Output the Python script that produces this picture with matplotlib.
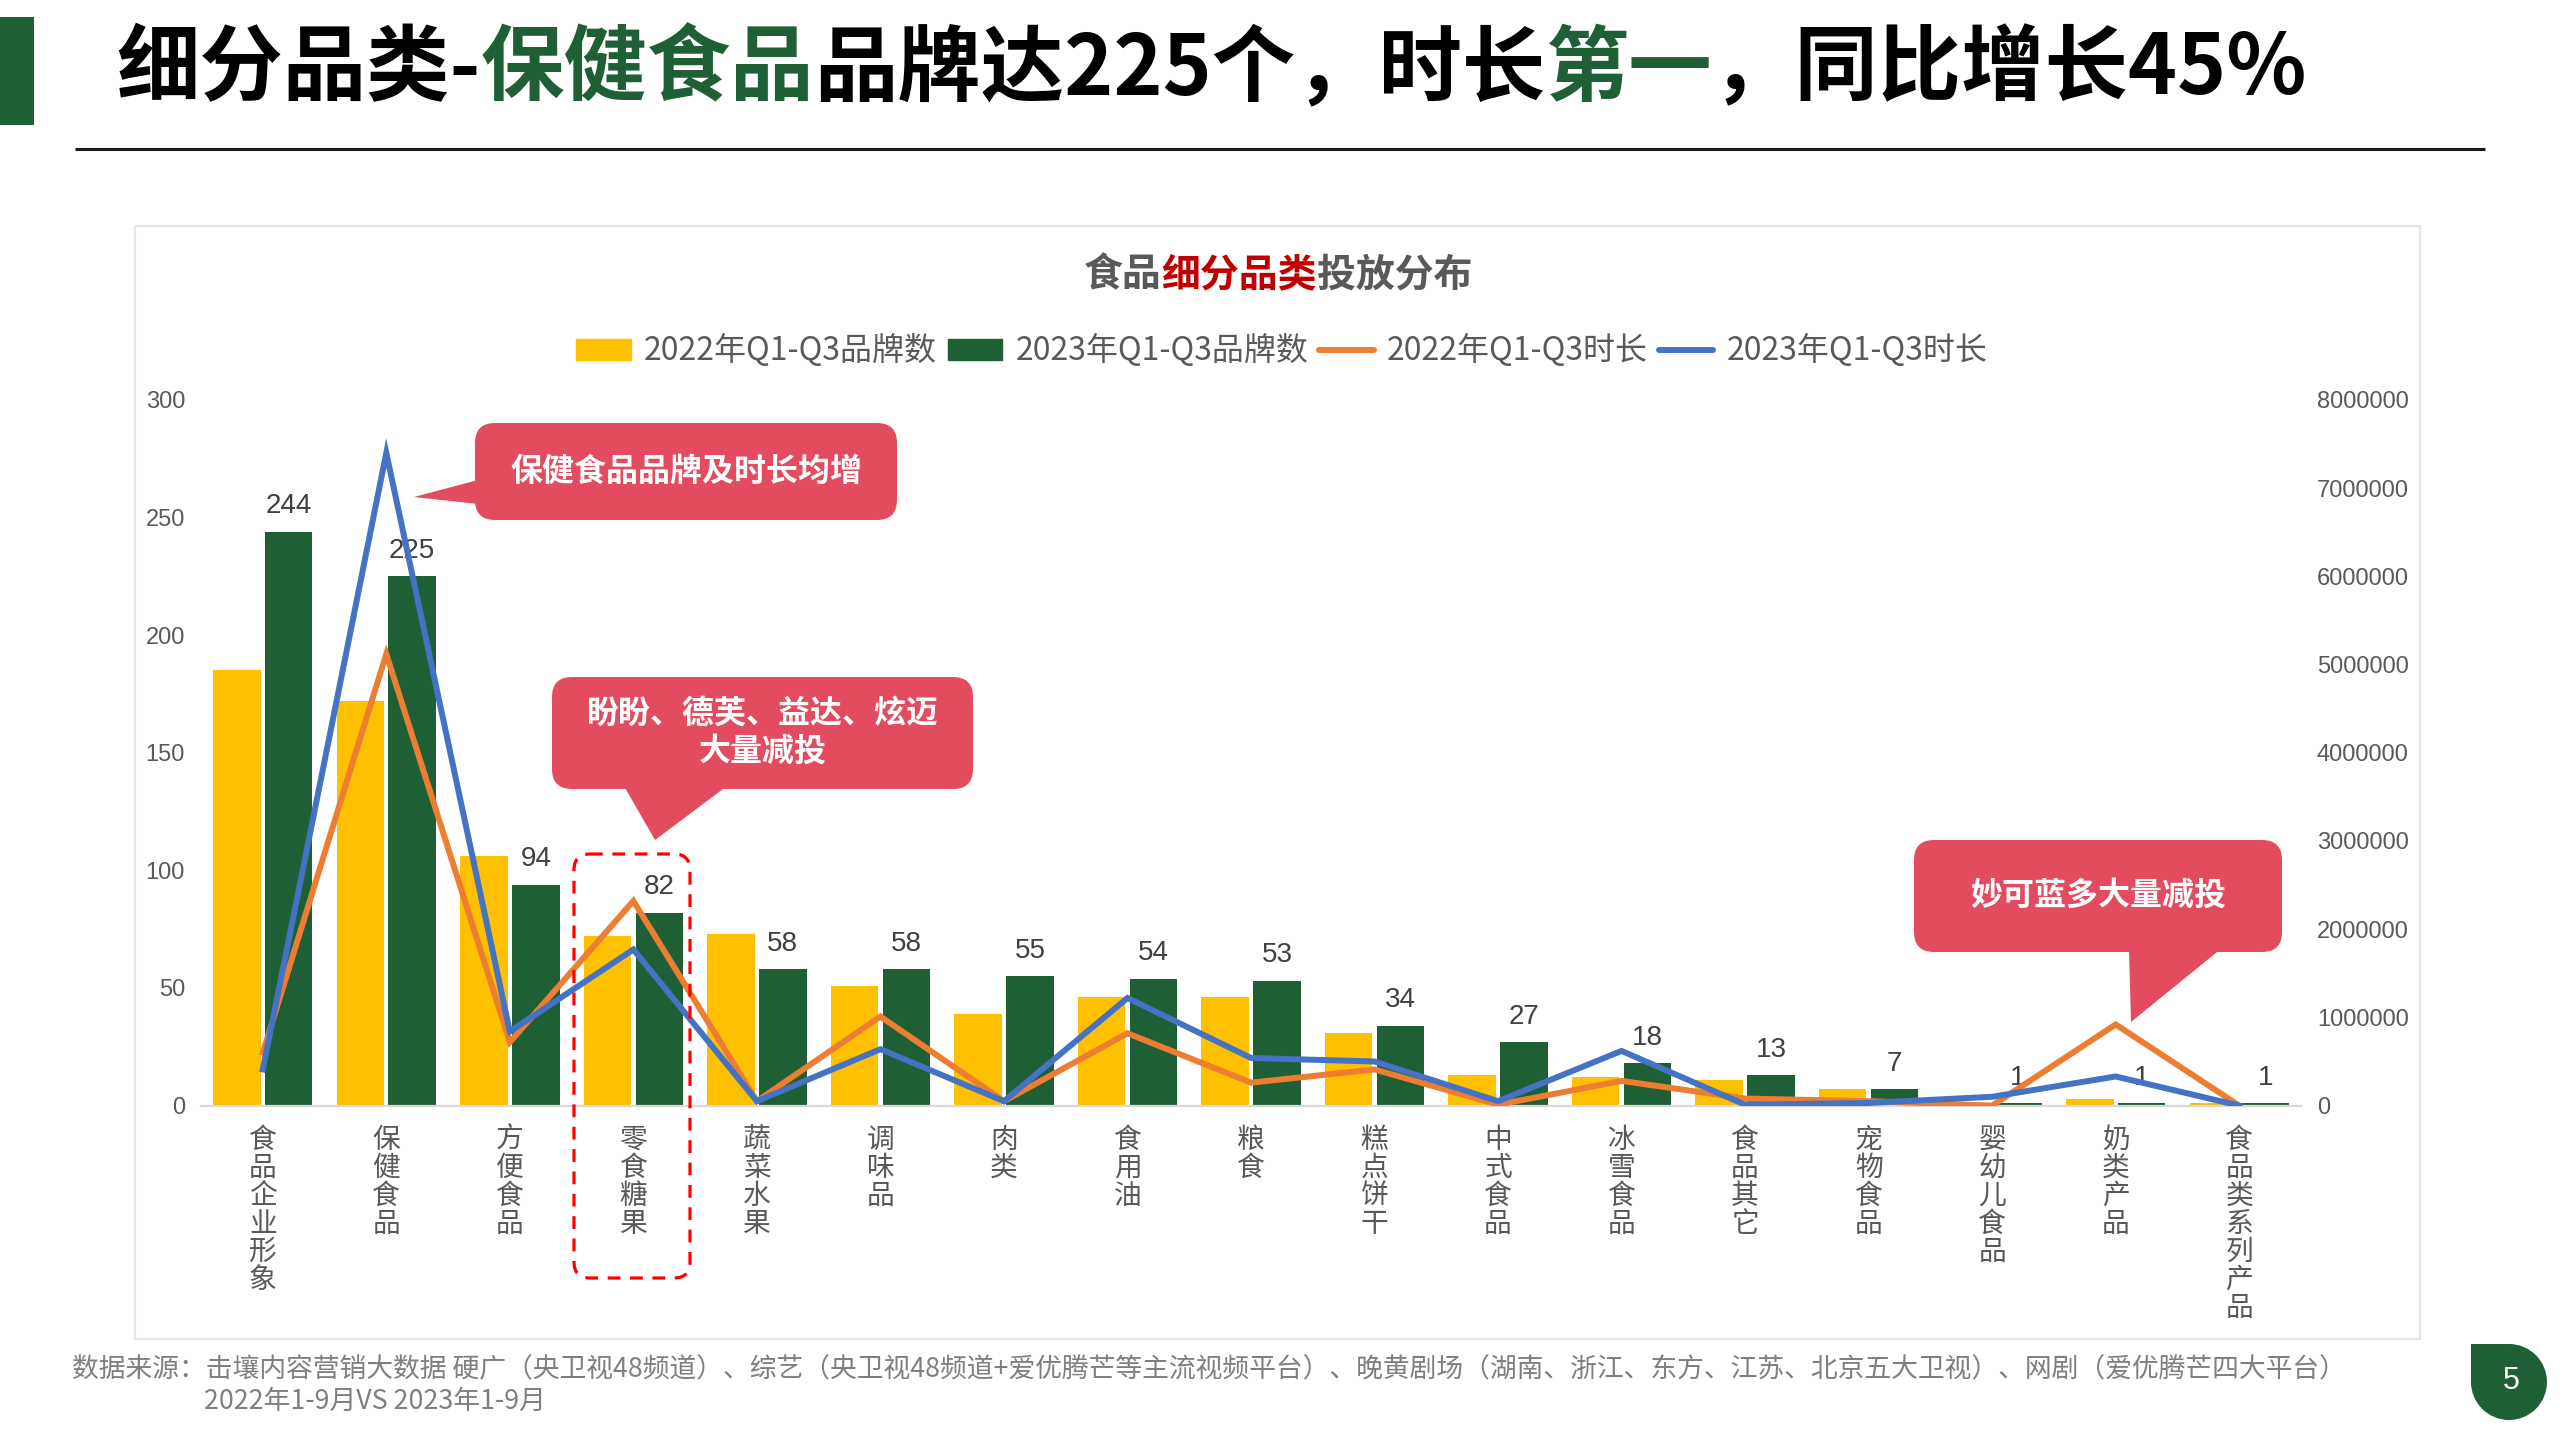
import matplotlib
matplotlib.use('Agg')
import matplotlib.pyplot as plt
import numpy as np
from matplotlib.patches import FancyBboxPatch, Polygon, Circle, Rectangle
from matplotlib.lines import Line2D
from matplotlib.patches import Patch

plt.rcParams['font.family'] = ['Noto Sans CJK SC', 'DejaVu Sans']

# ---------------- data ----------------
categories = ['食品企业形象', '保健食品', '方便食品', '零食糖果', '蔬菜水果', '调味品', '肉类',
              '食用油', '粮食', '糕点饼干', '中式食品', '冰雪食品', '食品其它', '宠物食品',
              '婴幼儿食品', '奶类产品', '食品类系列产品']
brands_2022 = [185, 172, 106, 72, 73, 51, 39, 46, 46, 31, 13, 12, 11, 7, 0, 3, 1]
brands_2023 = [244, 225, 94, 82, 58, 58, 55, 54, 53, 34, 27, 18, 13, 7, 1, 1, 1]
duration_2022 = [600000, 5120000, 720000, 2320000, 50000, 1010000, 50000, 820000, 260000,
                 410000, 10000, 280000, 80000, 50000, 0, 920000, 0]
duration_2023 = [410000, 7400000, 840000, 1770000, 50000, 640000, 50000, 1220000, 540000,
                 500000, 50000, 620000, 10000, 30000, 100000, 330000, 0]
left_ticks = [0, 50, 100, 150, 200, 250, 300]
right_ticks = [0, 1000000, 2000000, 3000000, 4000000, 5000000, 6000000, 7000000, 8000000]
legend_labels = ['2022年Q1-Q3品牌数', '2023年Q1-Q3品牌数', '2022年Q1-Q3时长', '2023年Q1-Q3时长']

YELLOW = '#FFC000'
GREEN = '#1F5F35'
ORANGE = '#ED7D31'
BLUE = '#4472C4'
GRAY = '#595959'
CALLOUT = '#E34B5F'

W, H = 2560, 1440
fig = plt.figure(figsize=(25.6, 14.4), dpi=100)
fig.patch.set_facecolor('white')

# background overlay (pixel coords, y downward)
bg = fig.add_axes([0, 0, 1, 1], zorder=0)
bg.set_xlim(0, W); bg.set_ylim(H, 0); bg.axis('off')
bg.add_patch(Rectangle((135, 226), 2285, 1113, fc='white', ec='#E6E6E6', lw=1.6))

# ---------------- chart ----------------
ax = fig.add_axes([201 / W, 1 - 1105.6 / H, 2100 / W, 705.6 / H], zorder=2)
ax.patch.set_alpha(0)
x = np.arange(len(categories))
bw = 0.385
b1 = ax.bar(x - 0.21, brands_2022, bw, color=YELLOW, zorder=2)
b2 = ax.bar(x + 0.21, brands_2023, bw, color=GREEN, zorder=2)
ax.set_xlim(-0.5, len(categories) - 0.5)
ax.set_ylim(0, 300)
ax.set_yticks(left_ticks)
ax.set_xticks(x)
ax.set_xticklabels(['\n'.join(c) for c in categories], fontsize=20, color=GRAY,
                   linespacing=0.91, va='top')
ax.tick_params(axis='x', length=0, pad=14)
ax.tick_params(axis='y', length=0, pad=11.5, labelsize=17, labelcolor=GRAY)
for lab in ax.get_yticklabels():
    lab.set_fontfamily(['Liberation Sans'])
for s in ['top', 'right', 'left']:
    ax.spines[s].set_visible(False)
ax.spines['bottom'].set_color('#D9D9D9')
ax.spines['bottom'].set_linewidth(1.6)
ax.bar_label(b2, labels=[str(v) for v in brands_2023], padding=9, fontsize=20,
             color='#404040', fontfamily=['Liberation Sans'])

ax2 = ax.twinx()
ax2.set_zorder(3)
ax2.patch.set_alpha(0)
ax2.plot(x, duration_2022, color=ORANGE, lw=4.3, solid_joinstyle='miter')
ax2.plot(x, duration_2023, color=BLUE, lw=4.3, solid_joinstyle='miter')
ax2.set_ylim(0, 8000000)
ax2.set_yticks(right_ticks)
ax2.set_yticklabels([str(v) for v in right_ticks])
ax2.tick_params(axis='y', length=0, pad=11.5, labelsize=17, labelcolor=GRAY)
for lab in ax2.get_yticklabels():
    lab.set_fontfamily(['Liberation Sans'])
for s in ['top', 'right', 'left', 'bottom']:
    ax2.spines[s].set_visible(False)

# legend
handles = [Patch(color=YELLOW), Patch(color=GREEN),
           Line2D([], [], color=ORANGE, lw=4.3, solid_capstyle='round'),
           Line2D([], [], color=BLUE, lw=4.3, solid_capstyle='round')]
leg = fig.legend(handles, legend_labels, loc='center', bbox_to_anchor=(1282 / W, 1 - 351 / H),
                 ncol=4, frameon=False, fontsize=23, handlelength=1.7, handleheight=0.66,
                 handletextpad=0.42, columnspacing=0.34, borderpad=0, labelcolor=GRAY)

# ---------------- foreground overlay ----------------
fg = fig.add_axes([0, 0, 1, 1], zorder=5)
fg.set_xlim(0, W); fg.set_ylim(H, 0); fg.axis('off')
fg.patch.set_alpha(0)
renderer = fig.canvas.get_renderer()


def seg_text(segs, x0, y, size, weight, center=False):
    arts = []
    for txt, col in segs:
        t = fg.text(0, y, txt, fontsize=size, fontweight=weight, color=col, va='center', ha='left')
        arts.append(t)
    widths = [a.get_window_extent(renderer).width for a in arts]
    total = sum(widths)
    cx = x0 - total / 2 if center else x0
    for a, w in zip(arts, widths):
        a.set_x(cx)
        cx += w
    return total


# green bar + title
fg.add_patch(Rectangle((0, 17), 34, 108, color=GREEN, lw=0))
seg_text([('细分品类-', 'black'), ('保健食品', GREEN), ('品牌达225个，时长', 'black'),
          ('第一', GREEN), ('，同比增长45%', 'black')], 116, 70, 60, 'heavy')
fg.plot([75, 2485], [149, 149], color='#1A1A1A', lw=2.2, solid_capstyle='butt')

# chart title
seg_text([('食品', GRAY), ('细分品类', '#C00000'), ('投放分布', GRAY)], 1278, 275, 28, 'bold',
         center=True)

# callouts
def callout(x0, y0, x1, y1, tri, lines):
    fg.add_patch(FancyBboxPatch((x0, y0), x1 - x0, y1 - y0,
                                boxstyle='round,pad=0,rounding_size=20', fc=CALLOUT, ec='none'))
    fg.add_patch(Polygon(tri, closed=True, fc=CALLOUT, ec='none'))
    fg.text((x0 + x1) / 2, (y0 + y1) / 2, lines, ha='center', va='center', fontsize=23,
            fontweight='bold', color='white', linespacing=1.25)


callout(475, 423, 897, 520, [(478, 480), (478, 504), (414, 497)], '保健食品品牌及时长均增')
callout(552, 677, 973, 789, [(624, 786), (727, 786), (655, 840)], '盼盼、德芙、益达、炫迈\n大量减投')
callout(1914, 840, 2282, 952, [(2129, 948), (2222, 948), (2131, 1022)], '妙可蓝多大量减投')

# dashed highlight box
fg.add_patch(FancyBboxPatch((574, 854), 116, 424, boxstyle='round,pad=0,rounding_size=16',
                            fc='none', ec='#FF0000', lw=2.3, ls=(0, (4, 3))))

# footer
fg.text(72, 1370, '数据来源：击壤内容营销大数据 硬广（央卫视48频道）、综艺（央卫视48频道+爱优腾芒等主流视频平台）、'
        '晚黄剧场（湖南、浙江、东方、江苏、北京五大卫视）、网剧（爱优腾芒四大平台）',
        fontsize=19.3, color='#7F7F7F', va='center', ha='left')
fg.text(204, 1401, '2022年1-9月VS 2023年1-9月', fontsize=19.3, color='#7F7F7F', va='center', ha='left')

# page number
fg.add_patch(Circle((2509, 1382), 38, color=GREEN, lw=0))
fg.add_patch(Rectangle((2471, 1344), 38, 38, color=GREEN, lw=0))
fg.text(2511, 1381, '5', fontsize=22, color='white', ha='center', va='center',
        fontfamily=['Liberation Sans'])

fig.savefig('out.png', dpi=100, facecolor='white')
